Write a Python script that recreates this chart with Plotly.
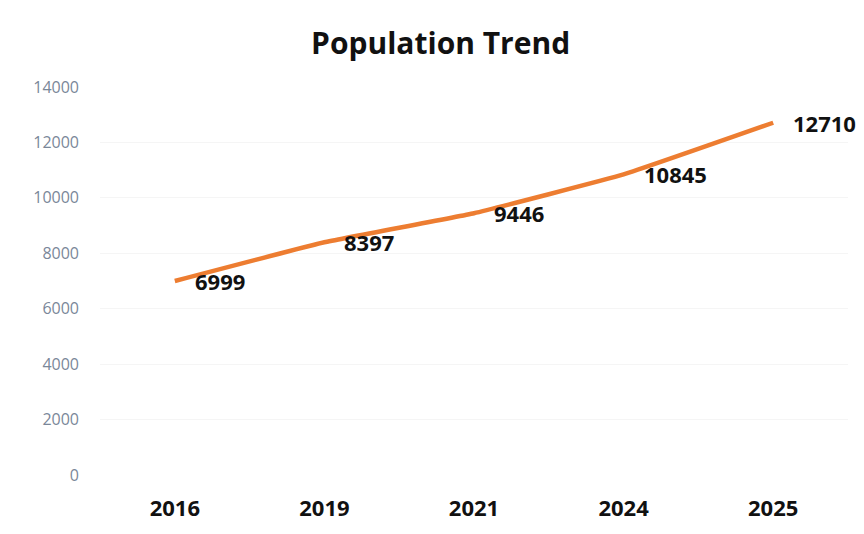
import plotly.graph_objects as go

years = ["2016", "2019", "2021", "2024", "2025"]
population = [6999, 8397, 9446, 10845, 12710]
y_ticks = [0, 2000, 4000, 6000, 8000, 10000, 12000, 14000]

xpos = list(range(len(years)))

fig = go.Figure()
fig.add_trace(go.Scatter(
    x=xpos, y=population, mode="lines",
    line=dict(color="#ED7D31", width=4.5, shape="spline", smoothing=0.3),
    hoverinfo="skip", showlegend=False,
))

for x, y in zip(xpos, population):
    fig.add_annotation(
        x=x, y=y, text=str(y), showarrow=False,
        xanchor="left", yanchor="middle", xshift=18,
        font=dict(family="Open Sans", size=22, color="#111111", weight="bold"),
    )

fig.update_layout(
    width=864, height=534,
    margin=dict(l=100, r=16, t=87, b=56),
    paper_bgcolor="white", plot_bgcolor="white",
    title=dict(text="<b>Population Trend</b>", x=0.51, xanchor="center",
               y=1 - 43 / 534, yref="container", yanchor="middle",
               font=dict(family="Open Sans", size=30, color="#111111")),
    xaxis=dict(range=[-0.5, len(years) - 0.5], tickvals=xpos, ticktext=years,
               showgrid=False, zeroline=False, showline=False,
               ticks="", ticklabelstandoff=18,
               tickfont=dict(family="Open Sans", size=22, color="#111111", weight="bold")),
    yaxis=dict(range=[0, 14000], tickvals=y_ticks, tickformat="d", showgrid=True,
               gridcolor="#f5f5f5", gridwidth=1, zeroline=False, showline=False,
               ticks="", ticklabelstandoff=20,
               tickfont=dict(family="Open Sans", size=16, color="#7a8799")),
)
fig.write_html("out.html")
